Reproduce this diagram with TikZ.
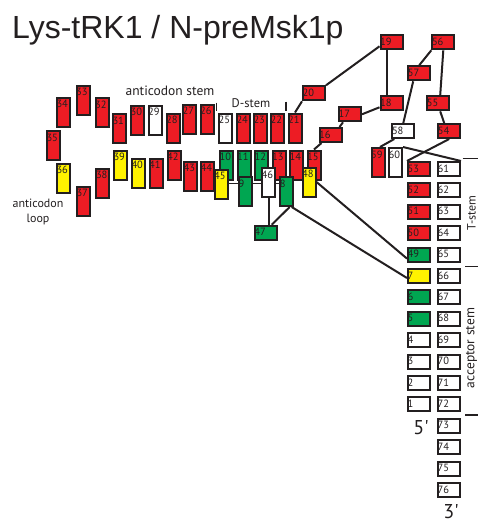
\documentclass[tikz,border=0pt]{standalone}
\usepackage{fontspec}
\setmainfont{PT Sans}
\newfontfamily\titlefont{Liberation Sans}
\usetikzlibrary{calc,backgrounds}
\definecolor{tRed}{HTML}{ED1C24}
\definecolor{tYellow}{HTML}{FFF200}
\definecolor{tGreen}{HTML}{00A651}
\definecolor{tInk}{HTML}{231F20}
\tikzset{
  nt/.style={draw=tInk, line width=2pt, inner sep=0pt},
  vnt/.style={nt, minimum width=13pt, minimum height=29pt},
  hnt/.style={nt, minimum width=22pt, minimum height=14pt},
  num/.style={label={[numtxt]north west:#1}},
  numtxt/.style={anchor=north west, inner sep=0pt, xshift=0.5pt, yshift=-3.5pt, text=tInk, font=\fontsize{10.5}{10.5}\selectfont},
  link/.style={draw=tInk, line width=2pt},
  tert/.style={draw=tInk, line width=0.8pt, double=white, double distance=3pt},
  tick/.style={draw=tInk, line width=1.5pt},
  lbl/.style={text=tInk, font=\fontsize{12}{15.5}\selectfont, inner sep=0pt}
}
\begin{document}
\begin{tikzpicture}[x=1pt, y=-1pt]
  \useasboundingbox (0,0) rectangle (478,523);
  \node[anchor=base west, inner sep=0pt, text=tInk, font=\titlefont\fontsize{32}{32}\selectfont] (title) at (12,38) {Lys-tRK1 / N-preMsk1p};

  % anticodon arm, upper strand
  \node[vnt, fill=tRed, num=34] (n34) at (63.3,112.2) {};
  \node[vnt, fill=tRed, num=33] (n33) at (83,100) {};
  \node[vnt, fill=tRed, num=32] (n32) at (102,112.7) {};
  \node[vnt, fill=tRed, num=31] (n31) at (119.3,128.5) {};
  \node[vnt, fill=tRed, num=30] (n30) at (137.5,120) {};
  \node[vnt, fill=white, num=29] (n29) at (155,120) {};
  \node[vnt, fill=tRed, num=28] (n28) at (173,128) {};
  \node[vnt, fill=tRed, num=27] (n27) at (189.5,119) {};
  \node[vnt, fill=tRed, num=26] (n26) at (207,119) {};
  \node[vnt, fill=white, num=25] (n25) at (225.5,128) {};
  \node[vnt, fill=tRed, num=24] (n24) at (243.3,128) {};
  \node[vnt, fill=tRed, num=23] (n23) at (260.3,128) {};
  \node[vnt, fill=tRed, num=22] (n22) at (277.5,128) {};
  \node[vnt, fill=tRed, num=21] (n21) at (295,128) {};

  % anticodon arm, lower strand and D-arm
  \node[vnt, fill=tRed, num=35] (n35) at (53.3,145.5) {};
  \node[vnt, fill=tYellow, num=36] (n36) at (63.3,178) {};
  \node[vnt, fill=tRed, num=37] (n37) at (83.3,201) {};
  \node[vnt, fill=tRed, num=38] (n38) at (102.8,183) {};
  \node[vnt, fill=tYellow, num=39] (n39) at (120.3,165) {};
  \node[vnt, fill=tYellow, num=40] (n40) at (138.3,173) {};
  \node[vnt, fill=tRed, num=41] (n41) at (156,173) {};
  \node[vnt, fill=tRed, num=42] (n42) at (174,165) {};
  \node[vnt, fill=tRed, num=43] (n43) at (190.5,176) {};
  \node[vnt, fill=tRed, num=44] (n44) at (207.5,176) {};
  \node[vnt, fill=tGreen, num=10] (n10) at (226.5,165) {};
  \node[vnt, fill=tGreen, num=11] (n11) at (244,165) {};
  \node[vnt, fill=tGreen, num=12] (n12) at (261.5,165) {};
  \node[vnt, fill=tRed, num=13] (n13) at (279,165) {};
  \node[vnt, fill=tRed, num=14] (n14) at (296.5,165) {};
  \node[vnt, fill=tRed, num=15] (n15) at (314,165) {};
  \node[vnt, fill=tYellow, num=45] (n45) at (221,184) {};
  \node[vnt, fill=tGreen, num=9] (n9) at (245.5,191.5) {};
  \node[vnt, fill=white, num=46] (n46) at (268.5,182.5) {};
  \node[vnt, fill=tGreen, num=8] (n8) at (286.7,191.5) {};
  \node[vnt, fill=tYellow, num=48] (n48) at (309,182) {};
  \node[hnt, fill=tGreen, num=47] (n47) at (265.7,232.7) {};

  % D-loop and T-loop
  \node[hnt, fill=tRed, num=20] (n20) at (314,93.3) {};
  \node[hnt, fill=tRed, num=16] (n16) at (330.5,135) {};
  \node[hnt, fill=tRed, num=17] (n17) at (350,114.3) {};
  \node[hnt, fill=tRed, num=18] (n18) at (391.5,103.3) {};
  \node[hnt, fill=tRed, num=19] (n19) at (391.5,42.3) {};
  \node[hnt, fill=tRed, num=56] (n56) at (443.3,42.3) {};
  \node[hnt, fill=tRed, num=57] (n57) at (419.2,73.3) {};
  \node[hnt, fill=tRed, num=55] (n55) at (438.2,103.3) {};
  \node[hnt, fill=tRed, num=54] (n54) at (449.2,131) {};
  \node[hnt, fill=white, num=58] (n58) at (403.3,131) {};
  \node[vnt, fill=tRed, num=59] (n59) at (378,162.5) {};
  \node[vnt, fill=white, num=60] (n60) at (395.5,162.5) {};

  % T-stem and acceptor stem
  \foreach \n/\c [count=\i from 0] in {53/tRed,52/tRed,51/tRed,50/tRed,49/tGreen,7/tYellow,6/tGreen,5/tGreen,4/white,3/white,2/white,1/white}
    \node[hnt, fill=\c, num=\n] (n\n) at (419,{169+21.4*\i}) {};
  \foreach \n [count=\i from 0] in {61,...,76}
    \node[hnt, fill=white, num=\n] (n\n) at (449,{169+21.4*\i}) {};

  \begin{scope}[on background layer]
    \draw[tert] ([yshift=-1pt]n45.center) -- ([yshift=-1pt]n45.center -| n8.center);
    \draw[link] (n21.north) -- (n20.south west);
    \draw[link] (n20.north east) -- ($(n19.west)!.5!(n19.south west)$);
    \draw[link] ($(n19.south)!.4!(n19.south west)$) -- ($(n18.north)!.4!(n18.north west)$);
    \draw[link] (n17.east) -- ($(n18.west)!.5!(n18.south west)$);
    \draw[link] ([xshift=-3pt]n16.north east) -- ([xshift=5pt]n17.south west);
    \draw[link] (n15.north) -- ([xshift=3pt]n16.south west);
    \draw[link] (n57.north) -- (n56.south west);
    \draw[link] (n56.south) -- ([xshift=2pt]n55.north);
    \draw[link] ([xshift=2pt]n55.south) -- ([xshift=-5pt]n54.north);
    \draw[link] ([xshift=-6pt]n57.south) -- (n58.north);
    \draw[link] ([xshift=3pt]n58.south west) -- ([xshift=2pt]n59.north);
    \draw[link] (n54.south) -- (n53.north west);
    \draw[link] (n60.north east) -- (n61.north east);
    \draw[link] (n46.south) -- (n46.south |- n47.north);
    \draw[link] ([xshift=3pt]n8.south) -- ([xshift=6pt]n47.north);
    \draw[link] ([xshift=5pt]n8.south) -- ([yshift=-2pt]n7.west);
    \draw[link] (n48.east) -- ([yshift=-4pt]n49.west);
  \end{scope}

  \draw[tick] (216.7,102.5) -- (216.7,111);
  \draw[tick] (286,101.5) -- (286,111);
  \draw[tick] (462.5,158.3) -- (478,158.3);
  \draw[tick] (465,266.7) -- (478,266.7);
  \draw[tick] (465,415) -- (478,415);

  \node[lbl, font=\fontsize{13.5}{15.5}\selectfont] (acstem) at (170,91) {anticodon stem};
  \node[lbl, font=\fontsize{12.5}{15.5}\selectfont] (dstem) at (251,103) {D-stem};
  \node[lbl, align=center] (acloop) at (38,212) {anticodon\\loop};
  \node[lbl, rotate=90] (tstem) at (471.5,213) {T-stem};
  \node[lbl, rotate=90, font=\fontsize{13.5}{15.5}\selectfont] (accstem) at (471.5,348) {acceptor stem};
  \node[lbl, font=\fontsize{20}{20}\selectfont] (five) at (421,428) {5\textquotesingle};
  \node[lbl, font=\fontsize{20}{20}\selectfont] (three) at (451,512) {3\textquotesingle};
\end{tikzpicture}
\end{document}
